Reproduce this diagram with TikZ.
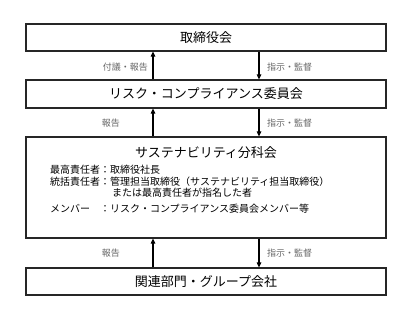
\documentclass[tikz,border=0pt]{standalone}
\usepackage{fontspec}
\setmainfont{Noto Sans CJK JP}
\usetikzlibrary{positioning,arrows.meta}
\definecolor{labelgray}{HTML}{666666}

\begin{document}
\begin{tikzpicture}[x=1pt, y=-1pt,
    orgBox/.style={rectangle, draw=black!85, line width=1.2pt, minimum width=360pt, font=\fontsize{13}{15}\selectfont, inner sep=0pt},
    flowArrow/.style={-{Triangle[length=5pt,width=4.5pt]}, line width=1.1pt, draw=black},
    flowLabel/.style={font=\fontsize{9}{11}\selectfont, text=labelgray, inner sep=0pt}
]
    \useasboundingbox (0,0) rectangle (412,320);

    % Boxes
    \node[orgBox, minimum height=27pt] (board) at (206,37.5) {取締役会};
    \node[orgBox, minimum height=28pt] (risk) at (206,94) {リスク・コンプライアンス委員会};
    \node[orgBox, minimum height=101pt] (subcom) at (206,187.5) {};
    \node[orgBox, minimum height=27pt] (dept) at (206,281.5) {関連部門・グループ会社};

    % Sub-committee contents
    \node[font=\fontsize{13}{15}\selectfont, inner sep=0pt] (subTitle) at (206,153) {サステナビリティ分科会};
    \node[anchor=west, inner sep=0pt, font=\fontsize{10}{10.5}\selectfont] (subBody) at (50,190.5) {%
        \begin{tabular}{@{}l@{}l@{}}
            最高責任者 & ：取締役社長\\
            統括責任者 & ：管理担当取締役（サステナビリティ担当取締役）\\
                       & \hspace{12pt}または最高責任者が指名した者\\[4.5pt]
            メンバー   & ：リスク・コンプライアンス委員会メンバー等
        \end{tabular}};

    % Arrow columns
    \coordinate (upLine) at (153,0);
    \coordinate (downLine) at (259,0);

    \draw[flowArrow] (risk.north -| upLine) -- (board.south -| upLine);
    \draw[flowArrow] (board.south -| downLine) -- (risk.north -| downLine);
    \draw[flowArrow] (subcom.north -| upLine) -- (risk.south -| upLine);
    \draw[flowArrow] (risk.south -| downLine) -- (subcom.north -| downLine);
    \draw[flowArrow] (dept.north -| upLine) -- (subcom.south -| upLine);
    \draw[flowArrow] (subcom.south -| downLine) -- (dept.north -| downLine);

    % Labels
    \node[flowLabel, anchor=east] (lblA) at (148,67) {付議・報告};
    \node[flowLabel, anchor=west] (lblB) at (267,67) {指示・監督};
    \node[flowLabel, anchor=east] (lblC) at (120,123) {報告};
    \node[flowLabel, anchor=west] (lblD) at (267,123) {指示・監督};
    \node[flowLabel, anchor=east] (lblE) at (120,253) {報告};
    \node[flowLabel, anchor=west] (lblF) at (267,253) {指示・監督};
\end{tikzpicture}
\end{document}
